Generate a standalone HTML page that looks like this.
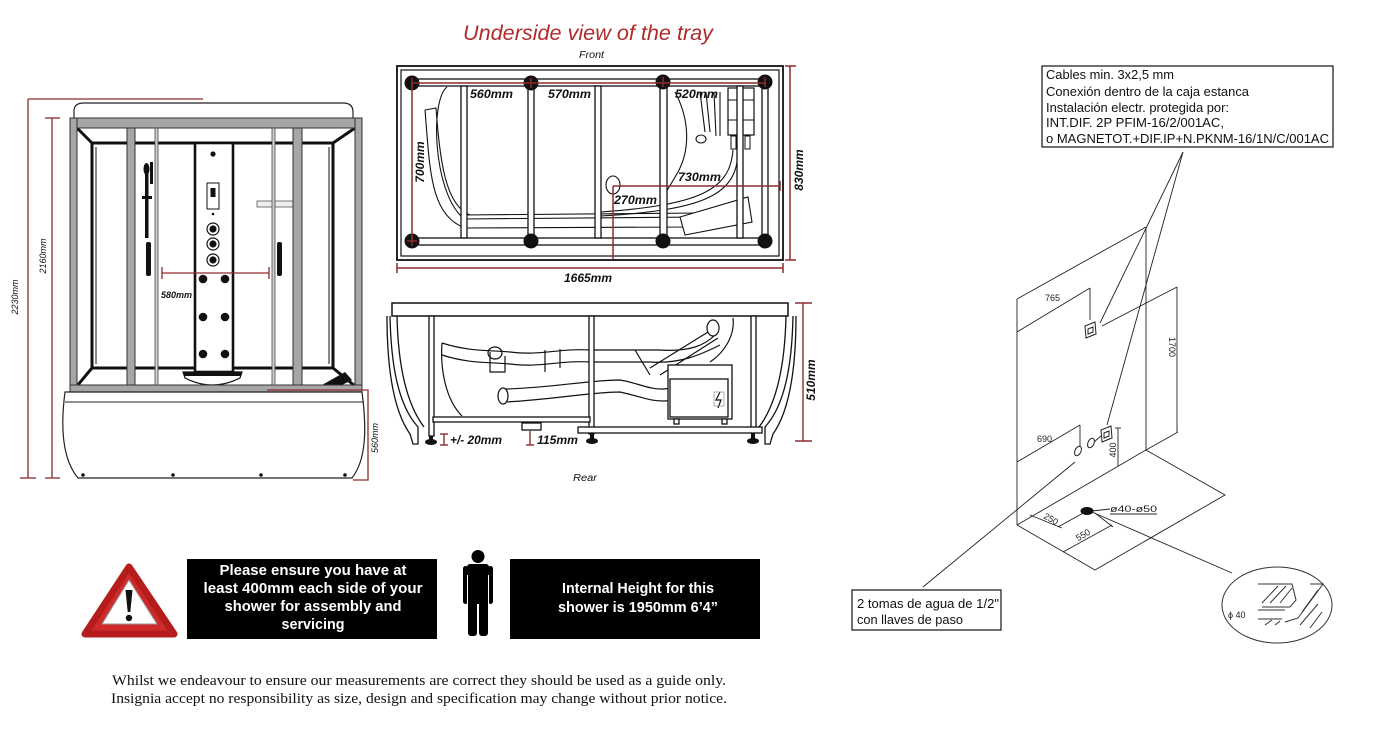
<!DOCTYPE html>
<html><head><meta charset="utf-8"><style>
html,body{margin:0;padding:0;background:#fff;}
svg{display:block;}
.l{font-family:"Liberation Sans",sans-serif;font-weight:bold;font-style:italic;font-size:12px;fill:#111;}
.s{font-family:"Liberation Sans",sans-serif;font-style:italic;font-size:9px;fill:#111;}
.n{font-family:"Liberation Sans",sans-serif;font-size:12.5px;fill:#111;}
.t{font-family:"Liberation Sans",sans-serif;font-size:9px;fill:#222;}
.w{font-family:"Liberation Sans",sans-serif;font-weight:bold;font-size:14.5px;fill:#fff;}
.d{font-family:"Liberation Serif",serif;font-size:14.5px;fill:#111;}
</style></head><body>
<svg width="1377" height="731" viewBox="0 0 1377 731" xmlns="http://www.w3.org/2000/svg">
<rect width="1377" height="731" fill="#fff"/>

<!-- ================= SHOWER FRONT VIEW ================= -->
<!-- roof -->
<path d="M74,119 L74,111 Q74,103 84,103 L343,103 Q353,103 353,112 L353,119" fill="#fff" stroke="#222" stroke-width="1.2"/>
<!-- back panel & perspective -->
<g stroke="#111" stroke-width="3" fill="none">
  <rect x="92" y="143" width="241" height="225" fill="#fff"/>
  <line x1="77" y1="128" x2="92" y2="143"/>
  <line x1="355" y1="128" x2="333" y2="143"/>
  <line x1="77" y1="386" x2="92" y2="368"/>
  <line x1="355" y1="386" x2="333" y2="368"/>
</g>
<g stroke="#111" stroke-width="1" fill="none">
  <line x1="96" y1="147" x2="96" y2="364"/>
  <line x1="329" y1="147" x2="329" y2="364"/>
</g>
<polygon points="322,385 345,372 352,380 340,386" fill="#111"/>
<!-- column -->
<rect x="195" y="143" width="38" height="229" fill="#fff" stroke="#111" stroke-width="2.6"/>
<circle cx="213" cy="154" r="2.6" fill="#111"/>
<rect x="207" y="183" width="12" height="26" fill="#fff" stroke="#111" stroke-width="1"/>
<rect x="210.5" y="188" width="5" height="9" fill="#111"/>
<circle cx="213" cy="214" r="1.3" fill="#111"/>
<g fill="#fff" stroke="#111">
  <circle cx="213" cy="229" r="6" stroke-width="1.2"/>
  <circle cx="213" cy="244" r="6" stroke-width="1.2"/>
  <circle cx="213" cy="260" r="6" stroke-width="1.2"/>
</g>
<g fill="#111">
  <circle cx="213" cy="229" r="3.6"/><circle cx="213" cy="244" r="3.6"/><circle cx="213" cy="260" r="3.6"/>
  <circle cx="203" cy="279" r="4.3"/><circle cx="225" cy="279" r="4.3"/>
  <circle cx="203" cy="317" r="4.3"/><circle cx="225" cy="317" r="4.3"/>
  <circle cx="203" cy="354" r="4.3"/><circle cx="225" cy="354" r="4.3"/>
</g>
<!-- seat -->
<path d="M183,372 L242,372 L240,378 Q212,392 185,378 Z" fill="#fff" stroke="#111" stroke-width="1.2"/>
<rect x="184" y="372" width="57" height="4" fill="#111"/>
<!-- riser, handles, shelf -->
<g fill="#111">
  <rect x="145" y="168" width="3.5" height="70"/>
  <rect x="150" y="162" width="3" height="22"/>
  <ellipse cx="146.5" cy="169" rx="3" ry="6"/>
  <rect x="142" y="196" width="10" height="3"/>
  <rect x="146" y="242" width="5" height="34" rx="2"/>
  <rect x="277" y="242" width="5" height="34" rx="2"/>
</g>
<rect x="257" y="201" width="36" height="6" fill="#eee" stroke="#555" stroke-width="0.8"/>
<!-- frame posts -->
<g fill="#a6a6a6" stroke="#333" stroke-width="1">
  <rect x="70" y="118" width="292" height="10"/>
  <rect x="70" y="118" width="7" height="274"/>
  <rect x="355" y="118" width="7" height="274"/>
  <rect x="127" y="128" width="8" height="258"/>
  <rect x="293" y="128" width="9" height="258"/>
  <rect x="70" y="385" width="292" height="7"/>
</g>
<g fill="#d0d0d0" stroke="#444" stroke-width="0.8">
  <rect x="155" y="128" width="3" height="257"/>
  <rect x="272" y="128" width="3" height="257"/>
</g>
<!-- tray -->
<path d="M65,392 L362,392 C367,430 366,460 352,478 L78,478 C63,460 60,430 65,392 Z" fill="#fff" stroke="#222" stroke-width="1.2"/>
<line x1="65" y1="402" x2="363" y2="402" stroke="#222" stroke-width="1"/>
<g fill="#111"><circle cx="83" cy="475" r="1.8"/><circle cx="173" cy="475" r="1.8"/><circle cx="261" cy="475" r="1.8"/><circle cx="345" cy="475" r="1.8"/></g>
<!-- red dims -->
<g stroke="#8e2b2b" stroke-width="1.3" fill="none">
  <line x1="28" y1="99" x2="203" y2="99"/>
  <line x1="28" y1="99" x2="28" y2="478"/>
  <line x1="20" y1="478" x2="36" y2="478"/>
  <line x1="52" y1="118" x2="52" y2="478"/>
  <line x1="45" y1="118" x2="60" y2="118"/>
  <line x1="45" y1="478" x2="60" y2="478"/>
  <polyline points="267,390 368,390 368,480 353,480"/>
  <line x1="162" y1="273" x2="269" y2="273"/>
  <line x1="162" y1="267" x2="162" y2="279"/>
  <line x1="269" y1="267" x2="269" y2="279"/>
</g>
<text class="s" transform="translate(15,297) rotate(-90)" text-anchor="middle" dominant-baseline="central">2230mm</text>
<text class="s" transform="translate(43,256) rotate(-90)" text-anchor="middle" dominant-baseline="central">2160mm</text>
<text class="s" transform="translate(375,438) rotate(-90)" text-anchor="middle" dominant-baseline="central">560mm</text>
<text class="s" x="161" y="298" font-weight="bold" textLength="31" lengthAdjust="spacingAndGlyphs">580mm</text>

<!-- ================= TRAY TOP VIEW ================= -->
<text x="463" y="40" font-family="Liberation Sans, sans-serif" font-style="italic" font-size="21" fill="#b02a2a" textLength="250" lengthAdjust="spacingAndGlyphs">Underside view of the tray</text>
<text x="579" y="58" font-family="Liberation Sans, sans-serif" font-style="italic" font-size="10" fill="#111" textLength="25" lengthAdjust="spacingAndGlyphs">Front</text>
<rect x="397" y="66" width="386" height="194" fill="#fff" stroke="#111" stroke-width="1.8"/>
<rect x="401" y="70" width="378" height="186" fill="none" stroke="#111" stroke-width="1.2"/>
<!-- pipes / bath outline -->
<g fill="none" stroke="#111" stroke-width="1.1">
  <path d="M447,87 C430,100 433,190 462,217"/>
  <path d="M425,110 L436,108 C440,160 445,205 470,215"/>
  <path d="M425,110 C430,170 430,215 465,228"/>
  <path d="M462,215 L700,213"/>
  <path d="M462,219 L700,217"/>
  <path d="M462,228 L690,227 L740,220"/>
  <path d="M675,92 C690,120 690,150 678,172 C670,186 664,195 660,202"/>
  <path d="M733,150 C730,190 700,205 600,212"/>
  <path d="M738,150 C738,195 705,210 600,216"/>
  <path d="M700,92 L705,132 M706,92 L710,132 M714,92 L716,136 M720,92 L720,136"/>
  <polygon points="680,217 748,197 752,222 685,235" fill="#fff"/>
</g>
<ellipse cx="701" cy="139" rx="5" ry="4" fill="#fff" stroke="#111" stroke-width="1.1"/>
<rect x="728" y="88" width="26" height="47" fill="#fff" stroke="#111" stroke-width="1.2"/>
<g stroke="#111" stroke-width="1"><line x1="741" y1="88" x2="741" y2="135"/><line x1="728" y1="100" x2="754" y2="100"/><line x1="728" y1="120" x2="754" y2="120"/></g>
<rect x="731" y="136" width="5" height="13" fill="#fff" stroke="#111"/>
<rect x="745" y="136" width="5" height="13" fill="#fff" stroke="#111"/>
<!-- rails and bars -->
<g fill="#fff" stroke="#111" stroke-width="1.3">
  <rect x="410" y="79" width="358" height="7"/>
  <rect x="410" y="238" width="358" height="7"/>
  <rect x="461" y="86" width="6" height="152"/>
  <rect x="528" y="86" width="6" height="152"/>
  <rect x="595" y="86" width="6" height="152"/>
  <rect x="660" y="86" width="7" height="152"/>
  <rect x="737" y="86" width="6" height="152"/>
  <rect x="762" y="86" width="6" height="152"/>
</g>
<ellipse cx="613" cy="185" rx="7" ry="9" fill="#fff" stroke="#111" stroke-width="1.1"/>
<g fill="#111">
  <circle cx="412" cy="83" r="7.5"/><circle cx="531" cy="83" r="7.5"/><circle cx="663" cy="82" r="7.5"/><circle cx="765" cy="82" r="7.5"/>
  <circle cx="412" cy="241" r="7.5"/><circle cx="531" cy="241" r="7.5"/><circle cx="663" cy="241" r="7.5"/><circle cx="765" cy="241" r="7.5"/>
</g>
<g stroke="#8e2b2b" stroke-width="1.5" fill="none">
  <line x1="412" y1="83" x2="766" y2="83"/>
  <line x1="412" y1="83" x2="412" y2="241"/>
  <line x1="412" y1="236" x2="412" y2="246"/><line x1="407" y1="241" x2="417" y2="241"/>
  <line x1="531" y1="78" x2="531" y2="88"/><line x1="663" y1="77" x2="663" y2="87"/><line x1="765" y1="77" x2="765" y2="87"/><line x1="412" y1="78" x2="412" y2="88"/>
  <line x1="613" y1="186" x2="780" y2="186"/>
  <line x1="780" y1="181" x2="780" y2="191"/>
  <line x1="613" y1="186" x2="613" y2="259"/>
  <line x1="790" y1="66" x2="790" y2="260"/>
  <line x1="785" y1="66" x2="796" y2="66"/><line x1="785" y1="260" x2="796" y2="260"/>
  <line x1="397" y1="268" x2="783" y2="268"/>
  <line x1="397" y1="263" x2="397" y2="273"/><line x1="783" y1="263" x2="783" y2="273"/>
</g>
<text class="l" x="470" y="98" textLength="43" lengthAdjust="spacingAndGlyphs">560mm</text>
<text class="l" x="548" y="98" textLength="43" lengthAdjust="spacingAndGlyphs">570mm</text>
<text class="l" x="675" y="98" textLength="43" lengthAdjust="spacingAndGlyphs">520mm</text>
<text class="l" x="678" y="181" textLength="43" lengthAdjust="spacingAndGlyphs">730mm</text>
<text class="l" x="614" y="204" textLength="43" lengthAdjust="spacingAndGlyphs">270mm</text>
<text class="l" x="588" y="282" text-anchor="middle">1665mm</text>
<text class="l" transform="translate(420,162) rotate(-90)" text-anchor="middle" dominant-baseline="central">700mm</text>
<text class="l" transform="translate(799,170) rotate(-90)" text-anchor="middle" dominant-baseline="central">830mm</text>

<!-- ================= SIDE VIEW ================= -->
<g fill="none" stroke="#111" stroke-width="1.2">
  <path d="M442,343 C440,370 446,400 462,416"/>
  <path d="M733,318 C735,335 725,352 710,362"/>
  <path d="M442,343 C470,352 490,350 510,352 C540,356 560,348 590,350 L660,350 C690,352 705,345 715,335"/>
  <path d="M442,355 C470,364 490,362 510,364 C540,368 560,360 590,362 L650,362 C680,364 700,355 720,345"/>
  <path d="M490,352 L490,372 L505,372 L505,356"/>
  <path d="M545,350 L545,372 M560,349 L560,368"/>
  <path d="M708,332 L650,368 M718,338 L660,375"/>
  <path d="M505,389 C550,388 590,380 620,380 C650,385 660,400 700,375"/>
  <path d="M505,402 C550,400 590,392 620,392 C650,398 665,412 705,385"/>
  <path d="M635,350 L650,375"/>
</g>
<ellipse cx="713" cy="328" rx="6" ry="8" fill="#fff" stroke="#111" stroke-width="1.2"/>
<ellipse cx="503" cy="396" rx="5" ry="8" fill="#fff" stroke="#111" stroke-width="1.2"/>
<ellipse cx="495" cy="353" rx="7" ry="6" fill="none" stroke="#111" stroke-width="1.2"/>
<rect x="392" y="303" width="396" height="13" fill="#fff" stroke="#111" stroke-width="1.5"/>
<g fill="none" stroke="#111" stroke-width="1.3">
  <path d="M390,316 C391,365 398,405 418,427 L418,444 L413,444 L410,434 C393,410 387,365 387,316"/>
  <path d="M397,316 C398,362 405,402 424,427"/>
  <path d="M793,316 C792,365 785,405 765,427 L765,444 L770,444 L773,434 C790,410 796,365 796,316"/>
  <path d="M786,316 C785,362 778,402 759,427"/>
</g>
<g fill="#fff" stroke="#111" stroke-width="1.3">
  <rect x="429" y="316" width="5" height="120"/>
  <rect x="589" y="316" width="5" height="118"/>
  <rect x="751" y="316" width="5" height="112"/>
  <rect x="433" y="417" width="157" height="5"/>
  <rect x="578" y="427" width="184" height="6"/>
  <rect x="522" y="423" width="19" height="7"/>
  <rect x="668" y="365" width="64" height="54"/>
  <rect x="670" y="379" width="58" height="38"/>
  <rect x="674" y="419" width="5" height="5"/>
  <rect x="722" y="419" width="5" height="5"/>
</g>
<path d="M720,392 L716,400 L721,400 L718,408" fill="none" stroke="#111" stroke-width="1.2"/>
<rect x="714" y="392" width="10" height="14" fill="none" stroke="#999" stroke-width="0.8"/>
<g fill="#111">
  <ellipse cx="431" cy="442" rx="6" ry="3"/><rect x="429" y="436" width="4" height="5"/>
  <ellipse cx="592" cy="441" rx="6" ry="3"/><rect x="590" y="433" width="4" height="6"/>
  <ellipse cx="753" cy="441" rx="6" ry="3"/><rect x="751" y="433" width="4" height="6"/>
</g>
<g stroke="#8e2b2b" stroke-width="1.4" fill="none">
  <line x1="444" y1="434" x2="444" y2="445"/><line x1="440" y1="434" x2="448" y2="434"/><line x1="440" y1="445" x2="448" y2="445"/>
  <line x1="530" y1="431" x2="530" y2="445"/><line x1="526" y1="445" x2="534" y2="445"/>
  <line x1="803" y1="303" x2="803" y2="441"/>
  <line x1="795" y1="303" x2="812" y2="303"/><line x1="795" y1="441" x2="812" y2="441"/>
</g>
<text class="l" x="450" y="444" textLength="52" lengthAdjust="spacingAndGlyphs">+/- 20mm</text>
<text class="l" x="537" y="444" textLength="41" lengthAdjust="spacingAndGlyphs">115mm</text>
<text class="l" transform="translate(811,380) rotate(-90)" text-anchor="middle" dominant-baseline="central">510mm</text>
<text x="573" y="481" font-family="Liberation Sans, sans-serif" font-style="italic" font-size="10" fill="#111" textLength="24" lengthAdjust="spacingAndGlyphs">Rear</text>

<!-- ================= BOTTOM NOTICES ================= -->
<polygon points="129,567 85,634 174,634" fill="#cf2a2a" stroke="#b51c1c" stroke-width="7" stroke-linejoin="round"/>
<polygon points="129,580 102,624 157,624" fill="#fff" stroke="#999" stroke-width="1"/>
<path d="M125.5,590 L132.5,590 L130.3,612 L127.7,612 Z" fill="#111"/>
<circle cx="129" cy="618" r="3.2" fill="#111"/>
<rect x="187" y="559" width="250" height="80" fill="#000"/>
<text class="w" x="313" y="575" text-anchor="middle" textLength="187" lengthAdjust="spacingAndGlyphs">Please ensure you have at</text>
<text class="w" x="313" y="593" text-anchor="middle" textLength="219" lengthAdjust="spacingAndGlyphs">least 400mm each side of your</text>
<text class="w" x="313" y="611" text-anchor="middle" textLength="177" lengthAdjust="spacingAndGlyphs">shower for assembly and</text>
<text class="w" x="313" y="629" text-anchor="middle" textLength="63" lengthAdjust="spacingAndGlyphs">servicing</text>
<g fill="#000">
  <circle cx="478" cy="556.5" r="6.5"/>
  <rect x="467" y="564" width="22" height="40" rx="3"/>
  <rect x="463" y="566" width="5" height="38" rx="2.5"/>
  <rect x="488" y="566" width="5" height="38" rx="2.5"/>
  <rect x="468" y="598" width="9" height="38" rx="3"/>
  <rect x="479" y="598" width="9" height="38" rx="3"/>
</g>
<g stroke="#fff" stroke-width="1"><line x1="467.5" y1="575" x2="467.5" y2="604"/><line x1="488.5" y1="575" x2="488.5" y2="604"/><line x1="478" y1="604" x2="478" y2="636"/></g>
<rect x="510" y="559" width="250" height="80" fill="#000"/>
<text class="w" x="638" y="593" text-anchor="middle" textLength="152" lengthAdjust="spacingAndGlyphs">Internal Height for this</text>
<text class="w" x="638" y="612" text-anchor="middle" textLength="160" lengthAdjust="spacingAndGlyphs">shower is 1950mm 6’4”</text>
<text class="d" x="112" y="685" textLength="614" lengthAdjust="spacingAndGlyphs">Whilst we endeavour to ensure our measurements are correct they should be used as a guide only.</text>
<text class="d" x="111" y="703" textLength="616" lengthAdjust="spacingAndGlyphs">Insignia accept no responsibility as size, design and specification may change without prior notice.</text>

<!-- ================= ISOMETRIC INSTALL DRAWING ================= -->
<rect x="1042" y="66" width="291" height="81" fill="#fff" stroke="#111" stroke-width="1.2"/>
<text class="n" x="1046" y="79" textLength="128" lengthAdjust="spacingAndGlyphs">Cables min. 3x2,5 mm</text>
<text class="n" x="1046" y="96" textLength="203" lengthAdjust="spacingAndGlyphs">Conexión dentro de la caja estanca</text>
<text class="n" x="1046" y="112" textLength="183" lengthAdjust="spacingAndGlyphs">Instalación electr. protegida por:</text>
<text class="n" x="1046" y="127" textLength="178" lengthAdjust="spacingAndGlyphs">INT.DIF. 2P PFIM-16/2/001AC,</text>
<text class="n" x="1046" y="143" textLength="283" lengthAdjust="spacingAndGlyphs">o MAGNETOT.+DIF.IP+N.PKNM-16/1N/C/001AC</text>
<g stroke="#222" stroke-width="0.9" fill="none">
  <line x1="1183" y1="152" x2="1100" y2="323"/>
  <line x1="1183" y1="152" x2="1107" y2="425"/>
  <line x1="1146" y1="227" x2="1146" y2="450"/>
  <line x1="1146" y1="227" x2="1017" y2="299"/>
  <line x1="1017" y1="299" x2="1017" y2="525"/>
  <polyline points="1017,525 1095,570 1225,495 1146,450 1017,525"/>
  <line x1="1177" y1="287" x2="1177" y2="432"/>
  <line x1="1177" y1="287" x2="1102" y2="326"/>
  <line x1="1146" y1="450" x2="1178" y2="432"/>
  <line x1="1017" y1="332" x2="1090" y2="288"/>
  <line x1="1090" y1="288" x2="1090" y2="320"/>
  <line x1="1017" y1="462" x2="1080" y2="425"/>
  <line x1="1080" y1="425" x2="1080" y2="450"/>
  <line x1="1118" y1="428" x2="1118" y2="466"/>
  <line x1="1115" y1="428" x2="1121" y2="428"/>
  <line x1="1030" y1="515" x2="1062" y2="528"/>
  <line x1="1085" y1="512" x2="1058" y2="527"/>
  <line x1="1063" y1="552" x2="1112" y2="525"/>
  <line x1="1095" y1="513" x2="1113" y2="527"/>
  <line x1="1092" y1="511" x2="1110" y2="509"/>
  <line x1="1110" y1="514" x2="1157" y2="514"/>
  <line x1="1092" y1="512" x2="1232" y2="573"/>
  <line x1="1075" y1="462" x2="923" y2="587"/>
</g>
<g fill="#fff" stroke="#222" stroke-width="1">
  <polygon points="1085,326 1095,322 1096,334 1086,338"/>
  <polygon points="1088,329 1093,327 1093,332 1088,334"/>
  <polygon points="1101,430 1111,426 1112,438 1102,442"/>
  <polygon points="1104,433 1109,431 1109,436 1104,438"/>
  <ellipse cx="1078" cy="451" rx="3" ry="5" transform="rotate(25 1078 451)"/>
  <ellipse cx="1091" cy="443" rx="3" ry="5" transform="rotate(25 1091 443)"/>
</g>
<line x1="1094" y1="442" x2="1101" y2="436" stroke="#222" stroke-width="0.9"/>
<ellipse cx="1087" cy="511" rx="6.5" ry="4" fill="#111"/>
<text class="t" x="1045" y="301">765</text>
<text class="t" x="1037" y="442">690</text>
<text class="t" transform="translate(1113,450) rotate(-90)" text-anchor="middle" dominant-baseline="central" font-size="8">400</text>
<text class="t" transform="translate(1172,347) rotate(90)" text-anchor="middle" dominant-baseline="central" font-size="8">1700</text>
<text class="t" transform="translate(1051,519) rotate(30)" text-anchor="middle" dominant-baseline="central" font-size="8">250</text>
<text class="t" transform="translate(1083,535) rotate(-30)" text-anchor="middle" dominant-baseline="central" font-size="8">550</text>
<text class="t" x="1110" y="512" font-size="8" textLength="47" lengthAdjust="spacingAndGlyphs">ø40-ø50</text>
<!-- detail -->
<ellipse cx="1277" cy="605" rx="55" ry="38" fill="#fff" stroke="#333" stroke-width="1"/>
<g stroke="#333" stroke-width="1" fill="none">
  <polyline points="1258,584 1292,584 1296,600 1290,607 1262,607"/>
  <line x1="1258" y1="610" x2="1285" y2="610"/>
  <line x1="1258" y1="619" x2="1282" y2="619"/>
  <polyline points="1310,584 1323,584 1315,595 1298,618 1285,622"/>
  <path d="M1262,603 L1278,586 M1270,603 L1286,586 M1280,603 L1292,588 M1302,612 L1318,590 M1300,625 L1318,604 M1310,628 L1322,612 M1265,625 L1272,620 M1275,625 L1280,621"/>
</g>
<text class="t" x="1228" y="618" font-size="10">ϕ 40</text>
<rect x="852" y="590" width="149" height="40" fill="#fff" stroke="#111" stroke-width="1.2"/>
<text class="n" x="857" y="608" textLength="142" lengthAdjust="spacingAndGlyphs">2 tomas de agua de 1/2"</text>
<text class="n" x="857" y="624" textLength="106" lengthAdjust="spacingAndGlyphs">con llaves de paso</text>
</svg>
</body></html>
